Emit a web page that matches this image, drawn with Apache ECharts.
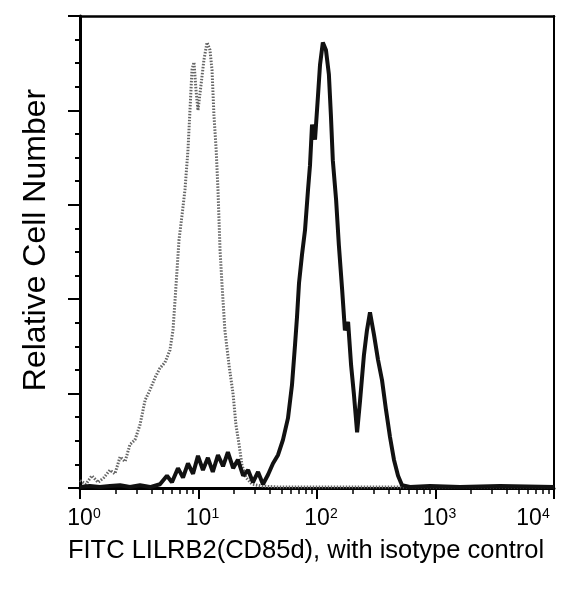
<!DOCTYPE html>
<html>
<head>
<meta charset="utf-8">
<script src="https://cdn.jsdelivr.net/npm/echarts@6/dist/echarts.min.js"></script>
<style>
html,body{margin:0;padding:0;background:#fff;}
#chart{width:574px;height:590px;}
</style>
</head>
<body>
<div id="chart"></div>
<script>
// ---- data (fluorescence intensity, relative count) ----
const stainedX = [1.00,1.21,1.47,1.79,2.18,2.64,3.21,3.90,4.73,5.42,5.97,6.71,7.40,8.15,8.99,9.90,10.9,12.0,13.2,14.6,16.1,17.7,19.6,21.5,23.8,26.2,28.8,31.8,35.0,38.6,42.5,46.9,51.6,56.9,61.5,65.2,67.8,70.5,74.7,79.2,84.0,87.3,90.8,96.2,102,106,112,119,126,131,136,145,153,163,172,183,194,205,218,231,249,264,280,303,327,354,382,413,446,483,522,609,899,1610,3500,10000];
const stainedY = [0.01,0.02,0.01,0.02,0.03,0.01,0.03,0.01,0.04,0.13,0.06,0.21,0.11,0.26,0.15,0.34,0.19,0.32,0.17,0.35,0.23,0.38,0.21,0.30,0.13,0.19,0.06,0.17,0.04,0.14,0.26,0.35,0.51,0.74,1.09,1.51,1.81,2.17,2.47,2.73,3.16,3.42,3.85,3.69,4.16,4.48,4.72,4.64,4.38,3.95,3.47,3.05,2.57,2.10,1.67,1.76,1.30,0.99,0.59,0.93,1.41,1.67,1.86,1.62,1.36,1.14,0.83,0.54,0.30,0.13,0.03,0.01,0.02,0.01,0.02,0.01];
const isotypeX = [1.00,1.12,1.26,1.42,1.59,1.79,1.97,2.18,2.40,2.64,2.91,3.21,3.54,3.90,4.30,4.73,5.21,5.74,6.09,6.34,6.59,6.85,7.26,7.69,8.15,8.47,8.81,9.16,9.52,9.90,10.5,11.1,11.8,12.5,13.0,13.5,14.1,14.6,15.2,15.8,16.7,18.1,19.6,20.7,22.0,23.3,25.2,28.3,34.3,48.7,106,501,10000];
const isotypeY = [0.08,0.04,0.13,0.06,0.11,0.19,0.15,0.33,0.28,0.46,0.51,0.67,0.93,1.04,1.17,1.27,1.33,1.46,1.67,1.99,2.31,2.63,2.89,3.16,3.58,4.00,4.43,4.51,4.22,4.00,4.27,4.53,4.72,4.64,4.43,3.95,3.58,3.16,2.52,2.15,1.67,1.30,0.99,0.67,0.46,0.24,0.11,0.04,0.02,0.01,0.01,0.01,0.01];
const decadeTicks = [1,10,100,1000,10000];
const minorTicksX = [2,3,4,5,6,7,8,9,20,30,40,50,60,70,80,90,200,300,400,500,600,700,800,900,2000,3000,4000,5000,6000,7000,8000,9000];
const xTitle = 'FITC LILRB2(CD85d), with isotype control';
const yTitle = 'Relative Cell Number';

const zip = (xs, ys) => xs.map((x, i) => [x, ys[i]]);
const FONT = 'Liberation Sans, Arial, sans-serif';

const chart = echarts.init(document.getElementById('chart'), null, {renderer: 'canvas'});
chart.setOption({
  animation: false,
  backgroundColor: '#fff',
  grid: {left: 80, right: 20, top: 16, bottom: 102, containLabel: false},
  xAxis: [
    {
      type: 'log', logBase: 10, min: 1, max: 10000,
      name: xTitle, nameLocation: 'middle', nameGap: 50,
      nameTextStyle: {fontFamily: FONT, fontSize: 25.5, color: '#000', padding: [0, 22, 0, 0]},
      axisLine: {show: true, lineStyle: {color: '#000', width: 3}},
      axisTick: {show: true, customValues: decadeTicks, length: 11, lineStyle: {color: '#000', width: 2}},
      minorTick: {show: false},
      splitLine: {show: false},
      axisLabel: {
        show: true, customValues: decadeTicks, margin: 19,
        formatter: v => {
          const e = Math.round(Math.log10(v));
          return e === 4 ? '{n|10}{s|' + e + '}{r|}' : '{p|}{n|10}{s|' + e + '}';
        },
        rich: {
          p: {width: 8},
          r: {width: 42},
          n: {fontFamily: FONT, fontSize: 23, color: '#000', lineHeight: 24},
          s: {fontFamily: FONT, fontSize: 14, color: '#000', lineHeight: 24, verticalAlign: 'top', padding: [0,0,10,0]}
        }
      }
    },
    {
      type: 'log', logBase: 10, min: 1, max: 10000, position: 'bottom',
      axisLine: {show: false},
      axisTick: {show: true, customValues: minorTicksX, length: 6, lineStyle: {color: '#000', width: 1.5}},
      axisLabel: {show: false}, splitLine: {show: false}
    },
    {
      type: 'log', logBase: 10, min: 1, max: 10000, position: 'top',
      axisLine: {show: true, lineStyle: {color: '#000', width: 2.5}},
      axisTick: {show: false}, axisLabel: {show: false}, splitLine: {show: false}
    }
  ],
  yAxis: [
    {
      type: 'value', min: 0, max: 5, interval: 1,
      name: yTitle, nameLocation: 'middle', nameGap: 28, nameRotate: 90,
      nameTextStyle: {fontFamily: FONT, fontSize: 32, color: '#000', padding: [0, 0, 0, 24]},
      axisLine: {show: true, lineStyle: {color: '#000', width: 3}},
      axisTick: {show: true, length: 12, lineStyle: {color: '#000', width: 2}},
      minorTick: {show: true, splitNumber: 4, length: 5, lineStyle: {color: '#000', width: 2}},
      axisLabel: {show: false}, splitLine: {show: false}, minorSplitLine: {show: false}
    },
    {
      type: 'value', min: 0, max: 5, position: 'right',
      axisLine: {show: true, lineStyle: {color: '#000', width: 2}},
      axisTick: {show: false}, axisLabel: {show: false}, splitLine: {show: false}
    }
  ],
  series: [
    {
      name: 'isotype', type: 'line', xAxisIndex: 0, yAxisIndex: 0,
      data: zip(isotypeX, isotypeY), showSymbol: false, symbol: 'none',
      lineStyle: {color: '#666', width: 3, type: [1.5, 1.5]}, z: 2
    },
    {
      name: 'stained', type: 'line', xAxisIndex: 0, yAxisIndex: 0,
      data: zip(stainedX, stainedY), showSymbol: false, symbol: 'none',
      lineStyle: {color: '#111', width: 4}, z: 3
    }
  ]
});
</script>
</body>
</html>
